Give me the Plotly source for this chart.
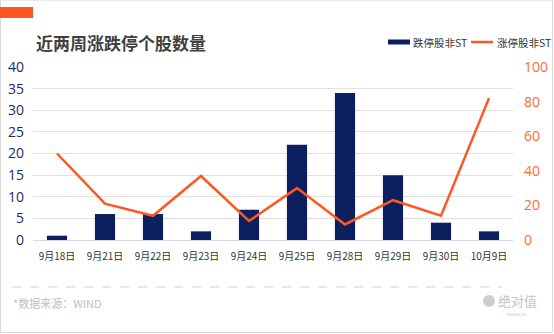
import plotly.graph_objects as go

categories = ["9月18日", "9月21日", "9月22日", "9月23日", "9月24日", "9月25日", "9月28日", "9月29日", "9月30日", "10月9日"]
limit_down = [1, 6, 6, 2, 7, 22, 34, 15, 4, 2]
limit_up = [50, 21, 14, 37, 11, 30, 9, 23, 14, 82]
left_ticks = [0, 5, 10, 15, 20, 25, 30, 35, 40]
right_ticks = [0, 20, 40, 60, 80, 100]

NAVY = "#0C1F5E"
ORANGE = "#FF5722"
FONT = "Noto Sans CJK SC"
W, H = 554, 334

fig = go.Figure()
fig.add_trace(go.Bar(x=categories, y=limit_down, name="跌停股非ST", marker_color=NAVY,
                     marker_line_width=0, width=0.42, yaxis="y"))
fig.add_trace(go.Scatter(x=categories, y=limit_up, name="涨停股非ST", mode="lines",
                         line=dict(color=ORANGE, width=2.5), yaxis="y2"))

L, R, T, B = 33, 41, 67, 94
fig.update_layout(
    width=W, height=H,
    margin=dict(l=L, r=R, t=T, b=B, autoexpand=False),
    paper_bgcolor="white", plot_bgcolor="white",
    showlegend=False,
    font=dict(family=FONT),
    xaxis=dict(showgrid=False, showline=True, linecolor="#d9d9d9", linewidth=1,
               ticks="", ticklabelstandoff=7, tickfont=dict(size=10, color="#333333"), fixedrange=True),
    yaxis=dict(range=[0, 40], tickvals=left_ticks, showgrid=True, gridcolor="#e0e0e0",
               gridwidth=1, zeroline=False, ticks="", ticklabelstandoff=8,
               tickfont=dict(size=14, color="#1c2a6b", family="Open Sans")),
    yaxis2=dict(range=[0, 100], tickvals=right_ticks, overlaying="y", side="right",
                showgrid=False, zeroline=False, ticks="", ticklabelstandoff=10,
                tickfont=dict(size=14, color="#FF6A33", family="Open Sans")),
    bargap=0.5,
)

def px(x):
    return (x - L) / (W - L - R)
def py(y):
    return (H - B - y) / (H - T - B)

shapes = [
    dict(type="rect", xref="paper", yref="paper", x0=px(0.5), x1=px(552.5), y0=py(332.5), y1=py(0),
         line=dict(color="#d8d8d8", width=1)),
    dict(type="rect", xref="paper", yref="paper", x0=px(0), x1=px(33), y0=py(18), y1=py(7),
         fillcolor=ORANGE, line=dict(width=0)),
    dict(type="rect", xref="paper", yref="paper", x0=px(388), x1=px(410), y0=py(44.5), y1=py(39.5),
         fillcolor=NAVY, line=dict(width=0)),
    dict(type="line", xref="paper", yref="paper", x0=px(471), x1=px(493), y0=py(42), y1=py(42),
         line=dict(color=ORANGE, width=2.5)),
    dict(type="line", xref="paper", yref="paper", x0=px(12), x1=px(502), y0=py(287), y1=py(287),
         line=dict(color="#d0d0d0", width=1, dash="dash")),
    # logo mark
    dict(type="circle", xref="paper", yref="paper", x0=px(483), x1=px(495), y0=py(307), y1=py(295),
         fillcolor="#cccccc", line=dict(width=0)),
]

annotations = [
    dict(text="<b>近两周涨跌停个股数量</b>", xref="paper", yref="paper", x=px(34), y=py(42),
         xanchor="left", yanchor="middle", showarrow=False, font=dict(size=17, color="#404040", family=FONT)),
    dict(text="跌停股非ST", xref="paper", yref="paper", x=px(411), y=py(42), xanchor="left", yanchor="middle",
         showarrow=False, font=dict(size=10.5, color="#333333", family=FONT)),
    dict(text="涨停股非ST", xref="paper", yref="paper", x=px(495), y=py(42), xanchor="left", yanchor="middle",
         showarrow=False, font=dict(size=10.5, color="#333333", family=FONT)),
    dict(text="*数据来源：WIND", xref="paper", yref="paper", x=px(11), y=py(303), xanchor="left", yanchor="middle",
         showarrow=False, font=dict(size=11, color="#c0c0c0", family=FONT)),
    dict(text="绝对值", xref="paper", yref="paper", x=px(539), y=py(300), xanchor="right", yanchor="middle",
         showarrow=False, font=dict(size=13, color="#c4c4c4", family=FONT)),
    dict(text="ABSVALUE", xref="paper", yref="paper", x=px(517), y=py(314), xanchor="center", yanchor="middle",
         showarrow=False, font=dict(size=4, color="#c4c4c4", family=FONT)),
]
fig.update_layout(shapes=shapes, annotations=annotations)

fig.write_html("out.html")
